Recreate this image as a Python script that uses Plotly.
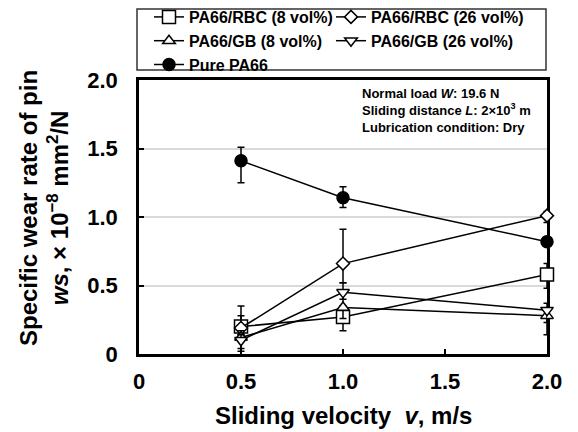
import plotly.graph_objects as go

# ---- data ----
velocity = [0.5, 1.0, 2.0]

series_names = ["PA66/RBC (8 vol%)", "PA66/RBC (26 vol%)", "PA66/GB (8 vol%)",
                "PA66/GB (26 vol%)", "Pure PA66"]

rbc8_y = [0.20, 0.27, 0.58]
rbc8_plus = [0.15, 0.08, 0.08]
rbc8_minus = [0.05, 0.10, 0.10]

rbc26_y = [0.19, 0.66, 1.01]
rbc26_plus = [0.09, 0.25, 0.03]
rbc26_minus = [0.05, 0.14, 0.05]

gb8_y = [0.12, 0.34, 0.28]
gb8_plus = [0.05, 0.10, 0.04]
gb8_minus = [0.08, 0.08, 0.14]

gb26_y = [0.10, 0.45, 0.32]
gb26_plus = [0.04, 0.07, 0.05]
gb26_minus = [0.08, 0.05, 0.09]

pure_y = [1.41, 1.14, 0.82]
pure_plus = [0.10, 0.08, 0.03]
pure_minus = [0.16, 0.07, 0.03]

x_ticks = [0, 0.5, 1.0, 1.5, 2.0]
x_ticktext = ["0", "0.5", "1.0", "1.5", "2.0"]
y_ticks = [0, 0.5, 1.0, 1.5, 2.0]
y_ticktext = ["0", "0.5", "1.0", "1.5", "2.0"]

FONT = "Liberation Sans, Arial, sans-serif"

styles = [
    dict(symbol="square", size=13, color="white", legend="legend"),
    dict(symbol="diamond", size=10, color="white", legend="legend2"),
    dict(symbol="triangle-up", size=11, color="white", legend="legend"),
    dict(symbol="triangle-down", size=11, color="white", legend="legend2"),
    dict(symbol="circle", size=12, color="black", legend="legend"),
]
ys = [rbc8_y, rbc26_y, gb8_y, gb26_y, pure_y]
pluses = [rbc8_plus, rbc26_plus, gb8_plus, gb26_plus, pure_plus]
minuses = [rbc8_minus, rbc26_minus, gb8_minus, gb26_minus, pure_minus]

fig = go.Figure()
for name, st, y, p, m in zip(series_names, styles, ys, pluses, minuses):
    fig.add_trace(go.Scatter(
        x=velocity, y=y, name=name, mode="lines+markers", legend=st["legend"],
        line=dict(color="black", width=1.5),
        marker=dict(symbol=st["symbol"], size=st["size"], color=st["color"],
                    line=dict(color="black", width=1.5)),
        error_y=dict(type="data", array=p, arrayminus=m, symmetric=False,
                     color="black", thickness=1.5, width=3.5),
        cliponaxis=False,
    ))

W, H = 578, 432
L, R, T, B = 139, 31, 80, 78
pw, ph = W - L - R, H - T - B

def px_x(px):
    return (px - L) / pw

def px_y(py):
    return (H - B - py) / ph

legend_common = dict(
    orientation="v", xanchor="left", yanchor="top", xref="paper", yref="paper",
    font=dict(family=FONT, size=16, color="black", weight="bold"),
    bgcolor="rgba(0,0,0,0)", borderwidth=0, tracegroupgap=0,
)

fig.update_layout(
    width=W, height=H,
    margin=dict(l=L, r=R, t=T, b=B, autoexpand=False),
    paper_bgcolor="white", plot_bgcolor="white",
    font=dict(family=FONT, color="black", weight="bold"),
    showlegend=True,
    legend=dict(x=px_x(149), y=px_y(0), **legend_common),
    legend2=dict(x=px_x(331), y=px_y(0), **legend_common),
    xaxis=dict(
        range=[0, 2.0], tickvals=x_ticks, ticktext=x_ticktext,
        ticks="inside", ticklen=5, tickwidth=1.5, tickcolor="black",
        showline=True, linecolor="black", linewidth=2.5, mirror=True,
        showgrid=False, zeroline=False, layer="below traces",
        tickfont=dict(family=FONT, size=22, color="black", weight="bold"),
        ticklabelstandoff=6,
    ),
    yaxis=dict(
        range=[0, 2.0], tickvals=y_ticks, ticktext=y_ticktext,
        ticks="inside", ticklen=5, tickwidth=1.5, tickcolor="black",
        showline=True, linecolor="black", linewidth=2.5, mirror=True,
        showgrid=True, gridcolor="#d9d9d9", gridwidth=1.5, zeroline=False,
        layer="below traces",
        tickfont=dict(family=FONT, size=22, color="black", weight="bold"),
        ticklabelstandoff=14,
    ),
    shapes=[dict(type="rect", xref="paper", yref="paper",
                 x0=px_x(137), x1=px_x(546), y0=px_y(70), y1=px_y(9),
                 line=dict(color="#333333", width=1.5), fillcolor="rgba(0,0,0,0)")],
    annotations=[
        dict(text="Sliding velocity  <i>v</i>, m/s", xref="paper", yref="paper",
             x=0.5, y=px_y(415), xanchor="center", yanchor="middle", showarrow=False,
             font=dict(family=FONT, size=24, color="black", weight="bold")),
        dict(text="Specific wear rate of pin<br><i>ws</i>, \u00d7 10<sup>\u22128</sup> mm<sup>2</sup>/N",
             xref="paper", yref="paper", x=px_x(44), y=px_y(208), textangle=-90,
             xanchor="center", yanchor="middle", showarrow=False,
             font=dict(family=FONT, size=24, color="black", weight="bold")),
        dict(text="Normal load <i>W</i>: 19.6 N<br>Sliding distance <i>L</i>: 2\u00d710<sup>3</sup> m<br>Lubrication condition: Dry",
             xref="paper", yref="paper", x=px_x(360), y=px_y(84), xanchor="left", yanchor="top",
             align="left", showarrow=False,
             font=dict(family=FONT, size=13, color="black", weight="bold")),
    ],
)

fig.write_html("out.html", config={"displayModeBar": False},
               post_script="document.body.style.margin='0';document.body.style.padding='0';")
